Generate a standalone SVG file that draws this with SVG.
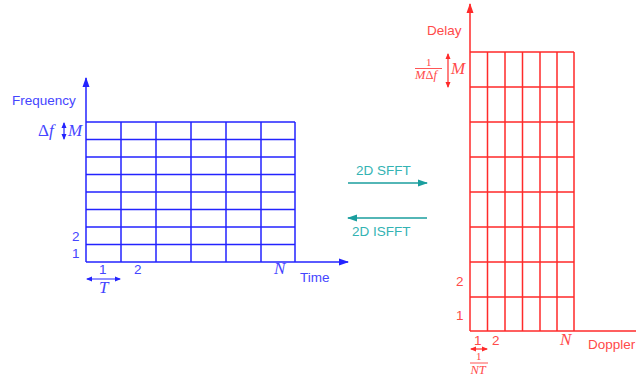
<svg xmlns="http://www.w3.org/2000/svg" width="636" height="377" viewBox="0 0 636 377">
<style>
.bl{stroke:#2323ff;stroke-width:1.5;fill:none}
.rd{stroke:#ff2a2a;stroke-width:1.5;fill:none}
.tl{stroke:#1a9e9e;stroke-width:1.5;fill:none}
.sb{font-family:"Liberation Sans",Arial,sans-serif;font-size:13.5px;fill:#4545ff}
.sr{font-family:"Liberation Sans",Arial,sans-serif;font-size:13.5px;fill:#ff4a4a}
.st{font-family:"Liberation Sans",Arial,sans-serif;font-size:13.5px;fill:#33b3b3}
.mb{font-family:"Liberation Serif","Times New Roman",serif;font-style:italic;font-size:17px;fill:#4545ff}
.mr{font-family:"Liberation Serif","Times New Roman",serif;font-style:italic;font-size:17px;fill:#ff4a4a}
.fr{font-family:"Liberation Serif","Times New Roman",serif;font-size:11px;fill:#ff4a4a}
.fri{font-family:"Liberation Serif","Times New Roman",serif;font-style:italic;font-size:12.5px;fill:#ff4a4a}
.up{font-style:normal}
</style>
<defs>
<marker id="ab" markerWidth="10" markerHeight="8" refX="9" refY="4" orient="auto-start-reverse" markerUnits="userSpaceOnUse"><path d="M0,0.5 L10,4 L0,7.5 Z" fill="#2323ff"/></marker>
<marker id="ar" markerWidth="10" markerHeight="8" refX="9" refY="4" orient="auto-start-reverse" markerUnits="userSpaceOnUse"><path d="M0,0.5 L10,4 L0,7.5 Z" fill="#ff2a2a"/></marker>
<marker id="at" markerWidth="10" markerHeight="8" refX="9" refY="4" orient="auto-start-reverse" markerUnits="userSpaceOnUse"><path d="M0,0.5 L10,4 L0,7.5 Z" fill="#1a9e9e"/></marker>
<marker id="sb" markerWidth="6" markerHeight="6" refX="5" refY="3" orient="auto-start-reverse" markerUnits="userSpaceOnUse"><path d="M0,0.5 L6,3 L0,5.5 Z" fill="#2323ff"/></marker>
<marker id="sr" markerWidth="6" markerHeight="6" refX="5" refY="3" orient="auto-start-reverse" markerUnits="userSpaceOnUse"><path d="M0,0.5 L6,3 L0,5.5 Z" fill="#ff2a2a"/></marker>
</defs>

<g id="tf-grid">
<path class="bl" d="M86,122H295M86,139.5H295M86,157H295M86,174.5H295M86,192H295M86,209.5H295M86,227H295M86,244.5H295M121,122V262M156,122V262M191,122V262M226,122V262M261,122V262M295,122V262"/>
<path class="bl" d="M86,262V78" marker-end="url(#ab)"/>
<path class="bl" d="M86,262H348" marker-end="url(#ab)"/>
<text class="sb" x="12" y="105">Frequency</text>
<text class="mb" x="38" y="136"><tspan class="up">Δ</tspan>f</text>
<path class="bl" d="M64,123V139" marker-start="url(#sb)" marker-end="url(#sb)" style="stroke-width:1.2"/>
<text class="mb" x="68" y="136">M</text>
<text class="sb" x="72" y="241">2</text>
<text class="sb" x="72" y="258">1</text>
<text class="sb" x="99" y="274">1</text>
<path class="bl" d="M87,279H120" marker-start="url(#sb)" marker-end="url(#sb)" style="stroke-width:1.2"/>
<text class="mb" x="99" y="293">T</text>
<text class="sb" x="134" y="274">2</text>
<text class="mb" x="274" y="274">N</text>
<text class="sb" x="300" y="282">Time</text>
</g>

<g id="connectors">
<path class="tl" d="M348,183H427" marker-end="url(#at)"/>
<path class="tl" d="M427,218H348" marker-end="url(#at)"/>
<text class="st" x="356" y="175">2D SFFT</text>
<text class="st" x="352" y="236">2D ISFFT</text>
</g>

<g id="dd-grid">
<path class="rd" d="M470,52H574M470,87H574M470,122H574M470,157H574M470,192H574M470,227H574M470,262H574M470,297H574M487.5,52V331M505,52V331M522.5,52V331M540,52V331M557,52V331M574,52V331"/>
<path class="rd" d="M470,331V4" marker-end="url(#ar)"/>
<path class="rd" d="M470,331H640"/>
<text class="sr" x="427" y="35">Delay</text>
<text class="fr" x="426" y="66">1</text>
<path class="rd" d="M415,68.5H442" style="stroke-width:0.8"/>
<text class="fri" x="415" y="78.5">M<tspan class="up">Δ</tspan>f</text>
<path class="rd" d="M448,54V87" marker-start="url(#sr)" marker-end="url(#sr)" style="stroke-width:1.2"/>
<text class="mr" x="451" y="74">M</text>
<text class="sr" x="456" y="286">2</text>
<text class="sr" x="456" y="320">1</text>
<text class="sr" x="474" y="345">1</text>
<text class="sr" x="492" y="345">2</text>
<text class="mr" x="560" y="345">N</text>
<text class="sr" x="588" y="349">Doppler</text>
<path class="rd" d="M471,349H487" marker-start="url(#sr)" marker-end="url(#sr)" style="stroke-width:1.2"/>
<text class="fr" x="476" y="360">1</text>
<path class="rd" d="M470,363H488" style="stroke-width:0.8"/>
<text class="fri" x="470.5" y="373.5">NT</text>
</g>
</svg>
